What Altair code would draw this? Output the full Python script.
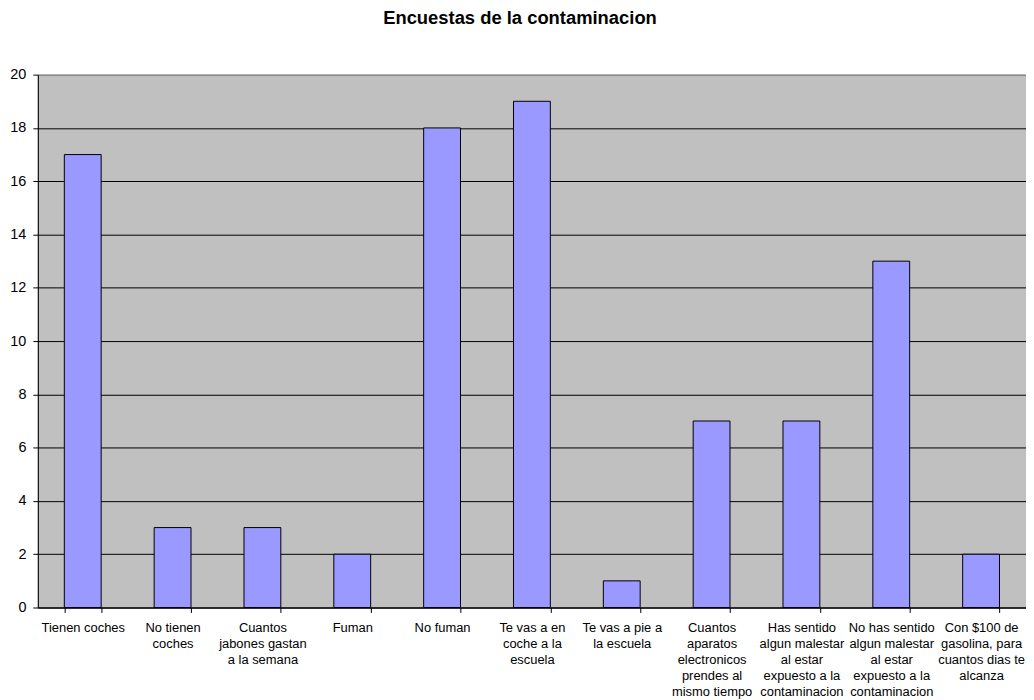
import altair as alt
import pandas as pd

categories = [
    "Tienen coches",
    "No tienen|coches",
    "Cuantos|jabones gastan|a la semana",
    "Fuman",
    "No fuman",
    "Te vas a en|coche a la|escuela",
    "Te vas a pie a|la escuela",
    "Cuantos|aparatos|electronicos|prendes al|mismo tiempo",
    "Has sentido|algun malestar|al estar|expuesto a la|contaminacion",
    "No has sentido|algun malestar|al estar|expuesto a la|contaminacion",
    "Con $100 de|gasolina, para|cuantos dias te|alcanza",
]
values = [17, 3, 3, 2, 18, 19, 1, 7, 7, 13, 2]
y_ticks = [0, 2, 4, 6, 8, 10, 12, 14, 16, 18, 20]

df = pd.DataFrame({"pregunta": categories, "valor": values})

FONT = "Liberation Sans"

chart = (
    alt.Chart(df)
    .mark_bar(color="#9999FF", stroke="black", strokeWidth=1)
    .encode(
        x=alt.X(
            "pregunta:N",
            sort=None,
            scale=alt.Scale(paddingInner=0.59, paddingOuter=0.295),
            axis=alt.Axis(
                title=None,
                labelAngle=0,
                labelExpr="split(datum.label, '|')",
                labelFont=FONT,
                labelFontSize=13,
                labelLineHeight=16.2,
                labelPadding=9,
                labelBaseline="top",
                labelAlign="center",
                labelLimit=0,
                labelColor="black",
                tickBand="extent",
                tickSize=5,
                tickColor="black",
                domainColor="black",
                grid=False,
            ),
        ),
        y=alt.Y(
            "valor:Q",
            scale=alt.Scale(domain=[0, 20], nice=False),
            axis=alt.Axis(
                title=None,
                values=y_ticks,
                labelFont=FONT,
                labelFontSize=14.5,
                labelColor="black",
                labelPadding=7,
                tickSize=5,
                tickColor="black",
                domainColor="black",
                grid=True,
                gridColor={"condition": {"test": "datum.value === 20", "value": "#808080"}, "value": "black"},
                gridWidth=1,
                gridOpacity=1,
            ),
        ),
    )
    .properties(
        width=994,
        height=536,
        background="white",
        padding={"left": 30, "top": 65, "right": 0, "bottom": 90},
        autosize=alt.AutoSizeParams(type="none"),
        title=alt.TitleParams(
            "Encuestas de la contaminacion",
            font=FONT,
            fontSize=18.5,
            fontWeight="bold",
            color="black",
            anchor="middle",
            offset=39,
            dx=-12,
        ),
    )
    .configure_view(fill="#C0C0C0", stroke="#808080", strokeWidth=1)
)

chart.save("out.html", embed_options={"renderer": "svg", "actions": False})
